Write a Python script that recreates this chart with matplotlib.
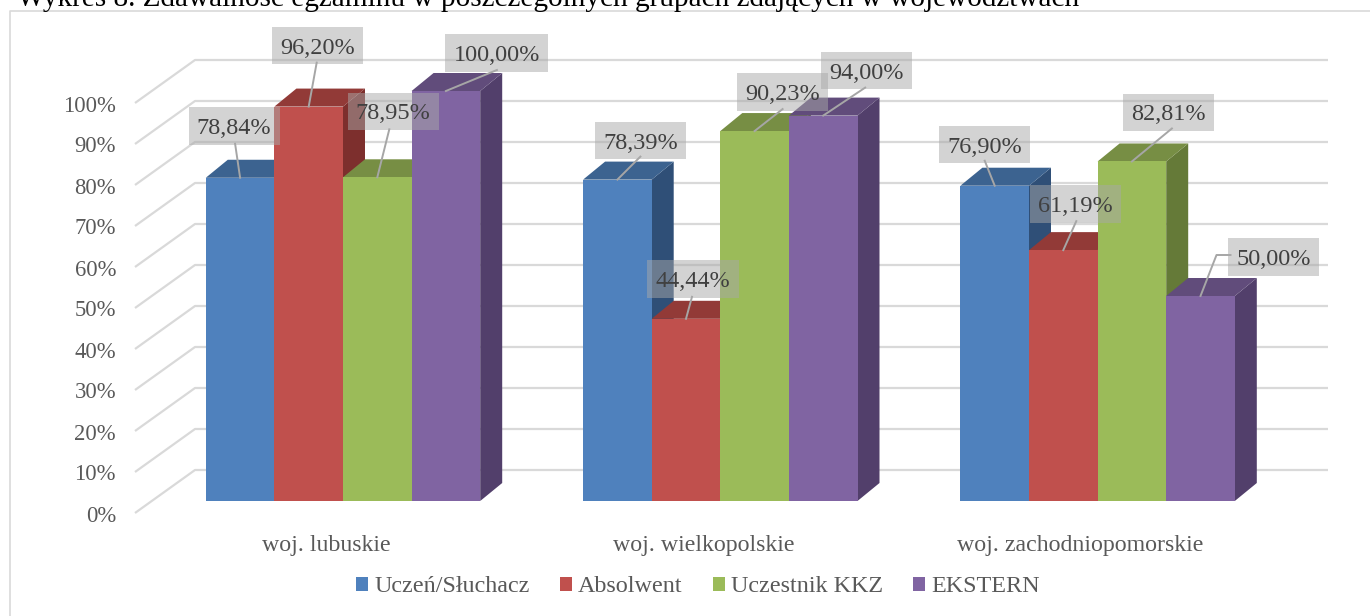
#!/usr/bin/env python3
import matplotlib
matplotlib.use("Agg")
import matplotlib.pyplot as plt
from matplotlib.patches import Polygon, Patch

plt.rcParams['font.family'] = ['Liberation Serif', 'DejaVu Serif']

# data
title = "Wykres 8. Zdawalność egzaminu w poszczególnych grupach zdających w województwach"
groups = ["woj. lubuskie", "woj. wielkopolskie", "woj. zachodniopomorskie"]
series = ["Uczeń/Słuchacz", "Absolwent", "Uczestnik KKZ", "EKSTERN"]
uczen = [78.84, 78.39, 76.90]
absolwent = [96.20, 44.44, 61.19]
kkz = [78.95, 90.23, 82.81]
ekstern = [100.00, 94.00, 50.00]
yticks = [0, 10, 20, 30, 40, 50, 60, 70, 80, 90, 100]

# styles: front, top, side
colors = [("#4f81bd", "#3c6390", "#2f4f77"),
          ("#c0504d", "#923a37", "#7d2f2d"),
          ("#9bbb59", "#778e44", "#657a38"),
          ("#8064a2", "#614c7b", "#523f6b")]

# layout, in pixels of the 1370x616 picture
W, H = 1370, 616
BASE_PY = 501
PX_PER_PCT = 4.1
GROUP_PX = 377.3
GROUP0_PX = 343.0
BAR_PX = 68.6


def dx(p):
    return p / GROUP_PX


def dy(p):
    return p / PX_PER_PCT


# label centre and leader end, relative to the middle of the bar's front top edge (x right, y up)
label_off = [[(-6, 52), (9, 61), (16, 66), (51, 38)],
             [(23, 39), (7, 40), (28, 39), (43, 45)],
             [(-10, 41), (12, 46), (37, 49), (73, 39)]]
leader_off = [[(-5, 34), (8, 44), (12, 48), (51, 21)],
              [(23, 23), (6, 22), (28, 22), (42, 28)],
              [(-10, 25), (13, 29), (40, 33), (16, 41)]]

fig = plt.figure(figsize=(W / 100, H / 100), dpi=100)
ax = fig.add_axes([0, 0, 1, 1])
ax.set_xlim(dx(0 - GROUP0_PX), dx(W - GROUP0_PX))
ax.set_ylim(dy(BASE_PY - H), dy(BASE_PY))
ax.axis("off")

grid = "#d9d9d9"
for t in yticks:
    # floor front corner -> back wall -> right end
    xs = [dx(135 - GROUP0_PX), dx(195 - GROUP0_PX), dx(1328 - GROUP0_PX)]
    ys = [t + dy(BASE_PY - 513), t + dy(BASE_PY - 470), t + dy(BASE_PY - 470)]
    ax.plot(xs, ys, color=grid, lw=1.6, zorder=1, solid_capstyle="butt")
    ax.text(dx(116 - GROUP0_PX), t + dy(BASE_PY - 516), f"{t}%", ha="right", va="center",
            fontsize=16.3, color="#595959")

values = [uczen, absolwent, kkz, ekstern]
bw = dx(BAR_PX)
ddx, ddy = dx(22), dy(18)
zo = 2
for g in range(len(groups)):
    for s in range(len(series)):
        v = values[s][g]
        x0 = g - 2 * bw + s * bw
        x1 = x0 + bw
        front, top, side = colors[s]
        ax.add_patch(Polygon([(x1, 0), (x1 + ddx, ddy), (x1 + ddx, v + ddy), (x1, v)],
                             fc=side, ec="none", zorder=zo))
        ax.add_patch(Polygon([(x0, v), (x0 + ddx, v + ddy), (x1 + ddx, v + ddy), (x1, v)],
                             fc=top, ec="none", zorder=zo))
        ax.add_patch(Polygon([(x0, 0), (x1, 0), (x1, v), (x0, v)],
                             fc=front, ec="none", zorder=zo))
        zo += 1

for g in range(len(groups)):
    for s in range(len(series)):
        v = values[s][g]
        xc = g - 2 * bw + s * bw + bw / 2
        lx, ly = leader_off[g][s]
        tx, ty = label_off[g][s]
        xs = [xc, xc + dx(lx)]
        ys = [v, v + dy(ly)]
        if g == 2 and s == 3:
            # the elbow on the 50,00% leader
            xs.append(xc + dx(30))
            ys.append(v + dy(ly))
        ax.plot(xs, ys, color="#a6a6a6", lw=1.4, zorder=50)
        # box first, then the text, so the text can sit a bit lower inside it
        ax.text(xc + dx(tx), v + dy(ty), f"{v:.2f}%".replace(".", ","), ha="center", va="center",
                fontsize=17.5, color="none", zorder=60,
                bbox=dict(boxstyle="square,pad=0.34", fc=(0.66, 0.66, 0.66, 0.5), ec="none"))
        ax.text(xc + dx(tx), v + dy(ty - 2.5), f"{v:.2f}%".replace(".", ","), ha="center", va="center",
                fontsize=17.5, color="#404040", zorder=61)

for g, name in enumerate(groups):
    ax.text(g - dx(17), dy(BASE_PY - 546), name, ha="center", va="center",
            fontsize=17.2, color="#595959")

handles = [Patch(fc=c[0], ec="none", label=n) for c, n in zip(colors, series)]
ax.legend(handles=handles, loc="center", bbox_to_anchor=(698 / W, 1 - 587 / H), ncol=4, frameon=False,
          fontsize=17.4, labelcolor="#595959", handlelength=0.5, handleheight=0.5,
          handletextpad=0.25, columnspacing=1.25, borderpad=0, borderaxespad=0)

# chart frame and the document caption above it
ax.plot([dx(9.5 - GROUP0_PX)] * 2 + [dx(W - GROUP0_PX)],
        [dy(BASE_PY - H), dy(BASE_PY - 11), dy(BASE_PY - 11)], color="#d9d9d9", lw=1.2, zorder=0)
fig.text(17 / W, 1 - 6 / H, title, ha="left", va="baseline", fontsize=21.1, color="black")

fig.savefig("out.png", dpi=100)
